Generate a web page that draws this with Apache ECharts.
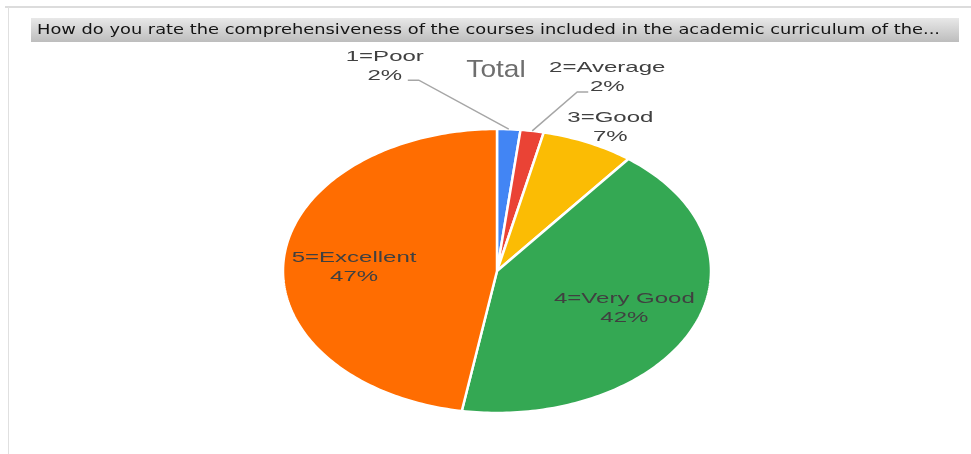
<!DOCTYPE html>
<html>
<head>
<meta charset="utf-8">
<title>Total</title>
<script src="https://cdn.jsdelivr.net/npm/echarts@6/dist/echarts.min.js"></script>
<style>
  html, body { margin: 0; padding: 0; background: #fff; }
  #main { width: 971px; height: 454px; }
</style>
</head>
<body>
<div id="main"></div>
<script>
// data
const categories = ['1=Poor', '2=Average', '3=Good', '4=Very Good', '5=Excellent'];
const counts = [1, 1, 4, 24, 27];
const question = 'How do you rate the comprehensiveness of the courses included in the academic curriculum of the...';
const chartTitle = 'Total';

// styles / layout
const colors = ['#4285F4', '#EA4335', '#FBBC04', '#34A853', '#FF6D01'];
const pie = { cx: 497, cy: 271, rx: 214, ry: 142 };
const labelFont = '15px "Liberation Sans", Arial, sans-serif';
const labelScaleX = 1.6;
// how each slice label is placed (relative to the slice's outer edge at mid angle)
const labelLayout = [
  { elbow: [-90, -49], tail: -11, text: [-23, -14] },
  { elbow: [45, -39], tail: 11, text: [19, -15] },
  { text: [22, -15] },
  { inside: 0.65, dy: 0 },
  { inside: 0.67, dy: 4 }
];

const total = counts.reduce((a, b) => a + b, 0);
const starts = [];
counts.reduce((acc, v, i) => { starts[i] = acc; return acc + v; }, 0);

function pt(deg, f) {
  const a = deg * Math.PI / 180;
  return [pie.cx + pie.rx * f * Math.sin(a), pie.cy - pie.ry * f * Math.cos(a)];
}

function renderSlice(params, api) {
  const i = params.dataIndex;
  const v = api.value(0);
  const a0 = starts[i] / total * 360;
  const a1 = (starts[i] + v) / total * 360;
  const points = [[pie.cx, pie.cy]];
  const steps = Math.max(2, Math.ceil(a1 - a0));
  for (let k = 0; k <= steps; k++) points.push(pt(a0 + (a1 - a0) * k / steps, 1));
  const children = [{
    type: 'polygon',
    shape: { points: points },
    style: { fill: colors[i], stroke: '#fff', lineWidth: 2.5, lineJoin: 'round' }
  }];
  const mid = (a0 + a1) / 2;
  const lay = labelLayout[i];
  const label = categories[i] + '\n' + Math.round(v / total * 100) + '%';
  let tx, ty;
  if (lay.inside) {
    [tx, ty] = pt(mid, lay.inside);
    ty += lay.dy;
  } else {
    const edge = pt(mid, 1);
    let end = edge;
    if (lay.elbow) {
      const bend = [edge[0] + lay.elbow[0], edge[1] + lay.elbow[1]];
      end = [bend[0] + lay.tail, bend[1]];
      children.push({
        type: 'polyline',
        shape: { points: [edge, bend, end] },
        style: { stroke: '#a6a6a6', lineWidth: 1.5, fill: null },
        z2: 5
      });
    }
    tx = end[0] + lay.text[0];
    ty = end[1] + lay.text[1];
  }
  children.push({
    type: 'text',
    x: tx, y: ty,
    scaleX: labelScaleX,
    z2: 10,
    style: {
      text: label,
      font: labelFont,
      fill: '#404040',
      align: 'center',
      verticalAlign: 'middle',
      lineHeight: 19
    }
  });
  return { type: 'group', children: children };
}

// stretch the question text to the width of the header bar
const probe = document.createElement('canvas').getContext('2d');
probe.font = '14px "DejaVu Sans"';
const questionScale = 903 / probe.measureText(question).width;

const chart = echarts.init(document.getElementById('main'));
chart.setOption({
  backgroundColor: '#fff',
  animation: false,
  graphic: [
    { type: 'line', shape: { x1: 5, y1: 7, x2: 971, y2: 7 }, style: { stroke: '#dcdcdc', lineWidth: 2 } },
    { type: 'line', shape: { x1: 8.5, y1: 7, x2: 8.5, y2: 454 }, style: { stroke: '#e0e0e0', lineWidth: 1 } },
    {
      type: 'rect',
      shape: { x: 31, y: 18, width: 928, height: 24 },
      style: {
        fill: new echarts.graphic.LinearGradient(0, 0, 0, 1, [
          { offset: 0, color: '#e8e8e8' },
          { offset: 1, color: '#bdbdbd' }
        ])
      }
    },
    {
      type: 'text', x: 37, y: 30, scaleX: questionScale,
      style: { text: question, font: '14px "DejaVu Sans"', fill: '#141414', verticalAlign: 'middle' }
    },
    {
      type: 'text', x: 496, y: 70, scaleX: 1.17,
      style: { text: chartTitle, font: '24px "Liberation Sans", Arial, sans-serif', fill: '#6e6e6e', align: 'center', verticalAlign: 'middle' }
    }
  ],
  series: [{
    type: 'custom',
    coordinateSystem: 'none',
    renderItem: renderSlice,
    data: counts
  }]
});
</script>
</body>
</html>
